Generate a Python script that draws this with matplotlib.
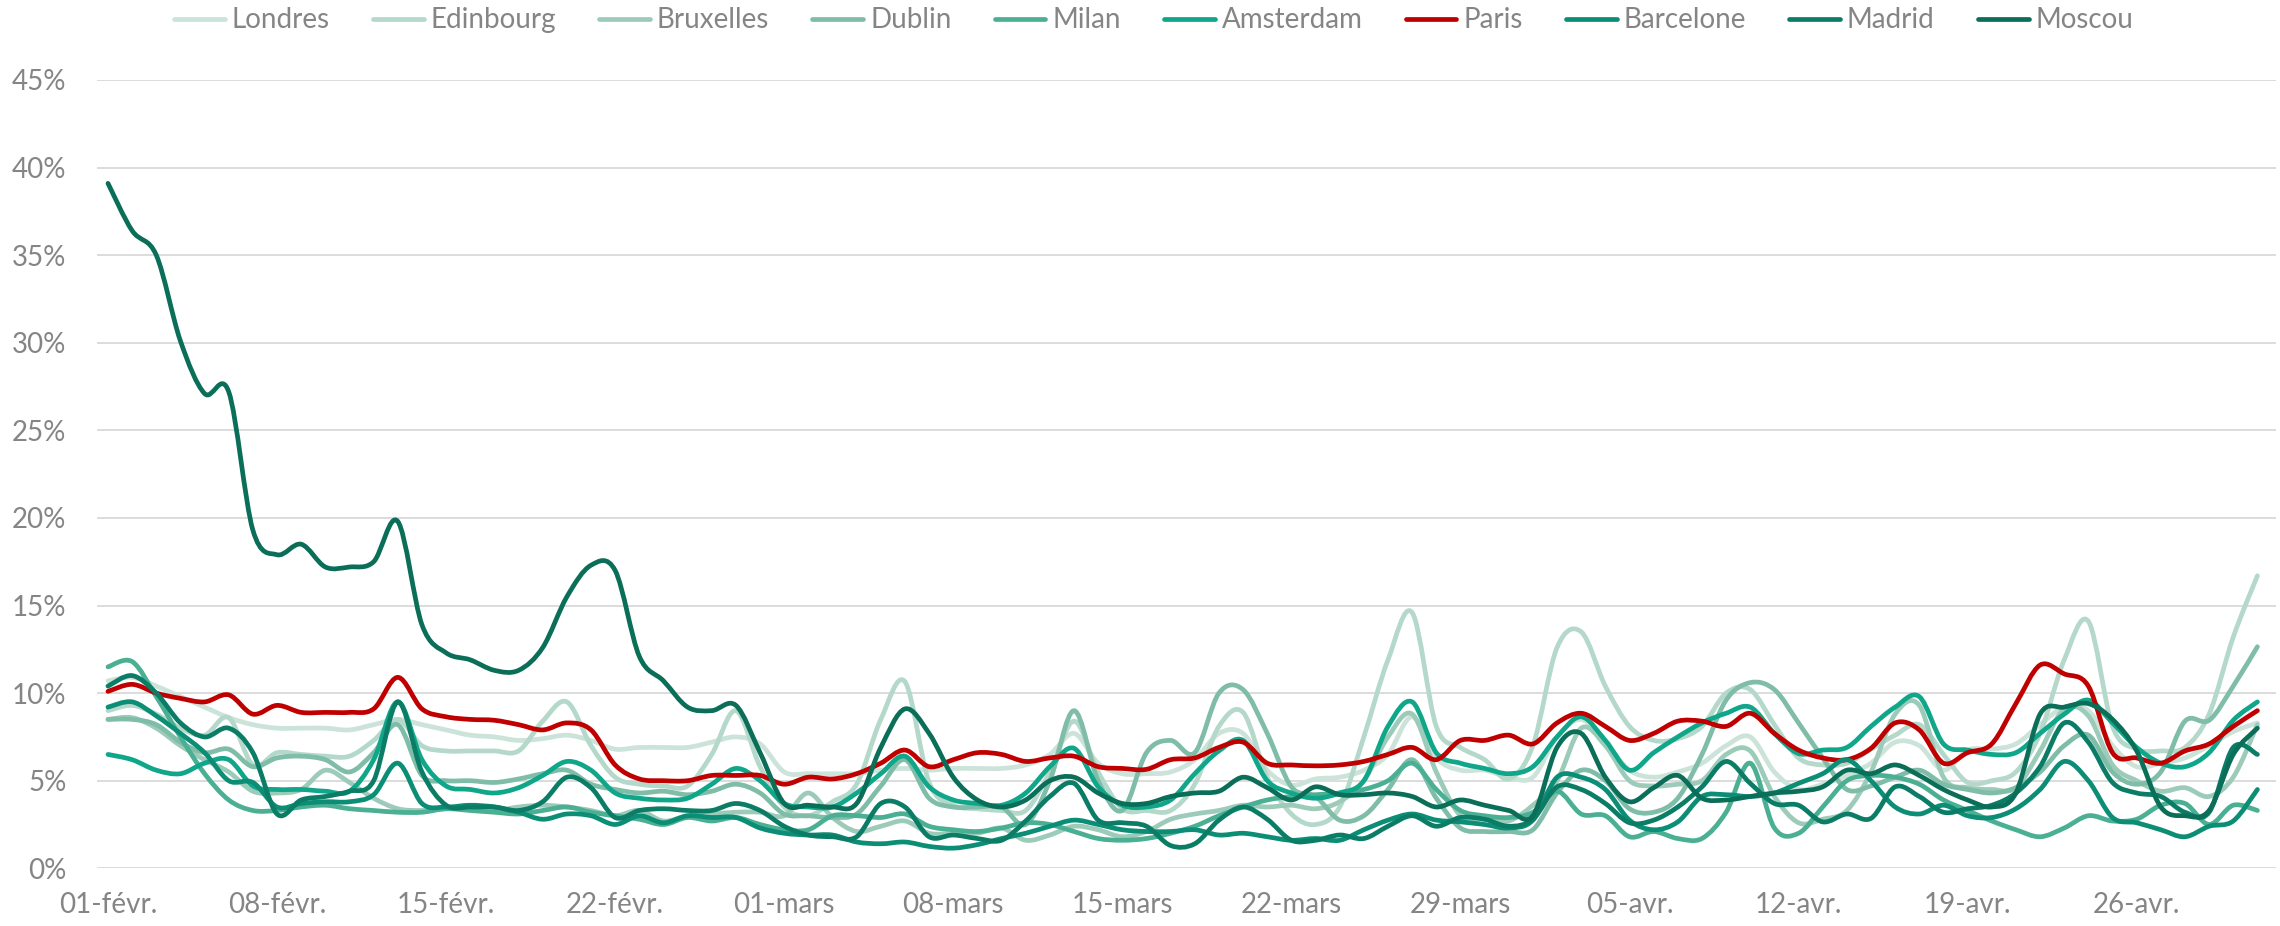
import numpy as np
import matplotlib
matplotlib.use("Agg")
import matplotlib.pyplot as plt
from matplotlib.path import Path
from matplotlib.patches import PathPatch
from matplotlib.lines import Line2D
from matplotlib.ticker import FuncFormatter

plt.rcParams['font.family'] = ['Lato', 'DejaVu Sans']

# ---------------- data (percent, daily from 01-févr to 01-mai) ----------------
tick_labels = ["01-févr.", "08-févr.", "15-févr.", "22-févr.", "01-mars", "08-mars",
               "15-mars", "22-mars", "29-mars", "05-avr.", "12-avr.", "19-avr.", "26-avr."]

londres = [10.7, 10.9, 10.4, 9.8, 9.2, 8.6, 8.2, 8.0, 8.0, 8.0,
           7.9, 8.2, 8.5, 8.2, 7.9, 7.6, 7.5, 7.3, 7.4, 7.6,
           7.3, 6.8, 6.9, 6.9, 6.9, 7.2, 7.5, 7.1, 5.5, 5.4,
           5.4, 5.4, 5.6, 5.7, 5.6, 5.7, 5.7, 5.7, 5.9, 6.5,
           7.7, 6.0, 5.4, 5.4, 5.5, 6.2, 7.7, 7.7, 5.6, 4.75,
           5.1, 5.2, 5.6, 6.5, 8.65, 6.3, 5.6, 5.6, 5.2, 5.2,
           7.5, 8.5, 7.2, 5.6, 5.2, 5.5, 6.0, 7.0, 7.5, 5.5,
           4.5, 4.8, 5.3, 6.0, 7.2, 7.0, 5.6, 6.75, 6.8, 7.1,
           8.2, 9.2, 9.0, 7.0, 5.8, 6.0, 6.3, 7.0, 7.8, 8.3]

edinbourg = [9.0, 9.3, 8.8, 8.0, 7.6, 8.6, 5.9, 6.6, 6.5, 6.4,
             6.4, 7.3, 8.5, 7.0, 6.7, 6.7, 6.7, 6.7, 8.4, 9.5,
             7.0, 5.2, 4.8, 4.7, 4.7, 6.5, 9.0, 5.8, 3.5, 3.0,
             3.8, 4.8, 8.5, 10.65, 4.9, 3.6, 3.4, 3.3, 3.3, 5.5,
             8.4, 5.5, 3.4, 3.3, 3.3, 4.8, 8.1, 8.9, 5.2, 3.1,
             2.5, 3.5, 7.5, 11.9, 14.6, 8.1, 6.9, 6.2, 5.1, 7.0,
             12.6, 13.5, 10.4, 8.1, 7.3, 7.4, 8.1, 10.0, 10.2, 8.2,
             6.3, 5.9, 6.0, 6.8, 7.6, 8.2, 6.5, 4.9, 5.0, 5.5,
             7.7, 11.9, 14.1, 8.1, 6.8, 6.7, 6.9, 8.8, 13.2, 16.7]

bruxelles = [8.5, 8.6, 8.0, 7.0, 6.2, 5.5, 4.4, 4.3, 4.5, 5.6,
             4.9, 4.0, 3.4, 3.3, 3.4, 3.5, 3.3, 3.5, 3.6, 3.5,
             3.3, 3.0, 3.3, 2.7, 3.0, 3.1, 3.2, 3.2, 3.0, 4.3,
             2.9, 2.1, 2.4, 2.7, 2.0, 2.0, 2.0, 2.3, 1.6, 1.9,
             2.4, 2.2, 1.8, 2.1, 2.8, 3.1, 3.3, 3.6, 3.5, 3.6,
             3.4, 3.8, 5.0, 7.5, 8.8, 5.5, 3.0, 2.8, 2.7, 3.6,
             5.0, 8.0, 7.0, 5.0, 4.7, 4.8, 5.0, 6.5, 6.7, 4.1,
             2.6, 2.8, 3.3, 5.5, 8.8, 9.3, 5.2, 4.6, 4.5, 4.6,
             6.7, 9.1, 8.7, 5.9, 5.0, 4.4, 4.6, 4.1, 5.2, 8.2]

dublin = [8.5, 8.5, 8.2, 7.2, 6.6, 6.8, 5.8, 6.3, 6.4, 6.2,
          5.5, 6.6, 8.2, 5.3, 5.0, 5.0, 4.9, 5.1, 5.4, 5.6,
          4.8, 4.5, 4.3, 4.4, 4.2, 4.4, 4.8, 4.3, 3.1, 3.0,
          2.9, 3.1, 4.7, 6.2, 4.0, 3.5, 3.5, 3.5, 2.5, 5.0,
          9.0, 5.0, 3.3, 6.6, 7.3, 6.6, 10.0, 10.2, 7.7, 4.65,
          4.1, 2.75, 3.0, 4.5, 6.2, 4.0, 2.3, 2.1, 2.1, 2.2,
          4.3, 5.6, 5.0, 3.4, 3.2, 4.0, 6.5, 9.6, 10.6, 10.2,
          8.3, 6.3, 4.5, 4.7, 5.2, 5.6, 4.8, 4.5, 4.3, 4.6,
          5.5, 7.0, 7.6, 5.5, 4.8, 5.5, 8.4, 8.45, 10.4, 12.65]

milan = [11.5, 11.8, 9.8, 7.5, 5.4, 3.9, 3.3, 3.3, 3.5, 3.6,
         3.4, 3.3, 3.2, 3.2, 3.4, 3.3, 3.2, 3.1, 3.3, 3.5,
         3.2, 3.0, 2.8, 2.5, 2.9, 2.7, 2.9, 2.5, 2.2, 2.2,
         3.0, 3.0, 2.9, 3.1, 2.4, 2.2, 2.1, 2.3, 2.6, 2.5,
         2.1, 1.7, 1.6, 1.7, 2.0, 2.4, 3.0, 3.5, 3.9, 4.1,
         4.2, 4.3, 4.5, 5.0, 6.0, 4.5, 3.3, 3.0, 2.9, 3.2,
         4.4, 3.1, 3.0, 1.8, 2.1, 1.7, 1.7, 3.2, 6.0, 2.3,
         2.0, 3.5, 5.0, 5.3, 5.2, 4.8, 3.9, 3.3, 2.7, 2.2,
         1.8, 2.3, 3.0, 2.7, 2.8, 3.6, 3.7, 2.5, 3.6, 3.3]

amsterdam = [6.5, 6.2, 5.6, 5.4, 6.0, 6.2, 4.7, 4.5, 4.5, 4.4,
             4.4, 6.2, 9.5, 6.2, 4.7, 4.5, 4.3, 4.6, 5.3, 6.1,
             5.6, 4.3, 4.0, 3.9, 4.0, 4.8, 5.7, 5.0, 3.7, 3.5,
             3.5, 4.3, 5.4, 6.4, 4.65, 3.9, 3.7, 3.6, 4.3, 5.8,
             6.85, 4.65, 3.6, 3.5, 3.9, 5.4, 6.7, 7.3, 5.0, 4.3,
             4.0, 4.3, 5.0, 8.1, 9.5, 6.6, 6.0, 5.7, 5.4, 5.8,
             7.5, 8.65, 7.3, 5.6, 6.6, 7.5, 8.3, 8.85, 9.2, 7.7,
             6.55, 6.75, 6.9, 8.1, 9.2, 9.8, 7.1, 6.75, 6.5, 6.6,
             7.7, 8.8, 9.6, 8.3, 6.9, 6.0, 5.8, 6.6, 8.45, 9.5]

paris = [10.1, 10.5, 10.0, 9.7, 9.5, 9.9, 8.8, 9.3, 8.9, 8.9,
         8.9, 9.1, 10.9, 9.1, 8.65, 8.5, 8.45, 8.2, 7.9, 8.3,
         7.9, 5.9, 5.1, 5.0, 5.0, 5.3, 5.3, 5.3, 4.8, 5.2,
         5.1, 5.4, 6.0, 6.75, 5.8, 6.2, 6.6, 6.5, 6.1, 6.3,
         6.4, 5.8, 5.7, 5.65, 6.2, 6.3, 6.9, 7.2, 6.0, 5.9,
         5.85, 5.9, 6.1, 6.5, 6.9, 6.2, 7.3, 7.3, 7.6, 7.1,
         8.3, 8.85, 8.1, 7.3, 7.7, 8.4, 8.4, 8.1, 8.85, 7.7,
         6.75, 6.3, 6.2, 6.85, 8.3, 7.9, 6.0, 6.6, 7.1, 9.4,
         11.6, 11.1, 10.4, 6.6, 6.3, 6.0, 6.7, 7.1, 8.1, 9.0]

barcelone = [9.2, 9.5, 8.7, 7.7, 6.6, 5.0, 4.9, 3.5, 3.7, 3.8,
             3.8, 4.2, 6.0, 3.7, 3.5, 3.6, 3.5, 3.2, 2.8, 3.1,
             3.0, 2.5, 3.0, 2.6, 3.0, 2.9, 2.9, 2.3, 2.0, 1.9,
             1.9, 1.5, 1.4, 1.5, 1.25, 1.15, 1.35, 1.7, 2.0, 2.4,
             2.75, 2.5, 2.2, 2.1, 2.1, 2.2, 1.9, 2.0, 1.8, 1.6,
             1.7, 1.6, 2.2, 2.75, 3.1, 2.75, 2.65, 2.5, 2.3, 2.75,
             5.2, 5.2, 4.5, 2.75, 2.2, 2.65, 4.1, 4.2, 4.1, 4.3,
             4.85, 5.4, 6.2, 5.0, 3.5, 3.1, 3.6, 3.0, 2.9, 3.4,
             4.5, 6.1, 5.0, 2.9, 2.6, 2.2, 1.8, 2.4, 2.7, 4.5]

madrid = [10.4, 11.0, 10.0, 8.3, 7.5, 8.0, 6.6, 3.1, 3.9, 4.1,
          4.4, 5.0, 9.5, 5.5, 3.6, 3.5, 3.5, 3.3, 3.8, 5.2,
          4.6, 2.9, 3.3, 3.4, 3.3, 3.3, 3.7, 3.3, 2.4, 1.9,
          1.8, 1.8, 3.7, 3.5, 1.8, 1.9, 1.7, 1.6, 2.7, 4.1,
          4.85, 2.75, 2.6, 2.4, 1.3, 1.4, 2.75, 3.5, 2.8, 1.6,
          1.6, 1.9, 1.7, 2.4, 3.0, 2.4, 2.9, 2.8, 2.4, 2.8,
          4.65, 4.5, 3.7, 2.6, 2.75, 3.5, 4.65, 6.1, 4.85, 3.7,
          3.6, 2.65, 3.1, 2.85, 4.65, 4.1, 3.2, 3.4, 3.6, 4.3,
          5.8, 8.3, 7.2, 4.9, 4.3, 4.1, 3.2, 3.2, 6.9, 6.5]

moscou = [39.1, 36.4, 35.0, 30.1, 27.1, 27.2, 19.3, 17.9, 18.5, 17.2,
          17.2, 17.5, 19.8, 13.9, 12.3, 11.9, 11.3, 11.3, 12.6, 15.5,
          17.3, 17.0, 12.1, 10.7, 9.2, 9.0, 9.3, 6.6, 3.7, 3.6,
          3.5, 3.7, 6.9, 9.1, 7.7, 5.2, 3.9, 3.5, 3.9, 5.0,
          5.2, 4.3, 3.7, 3.7, 4.1, 4.3, 4.4, 5.2, 4.6, 3.9,
          4.65, 4.2, 4.2, 4.3, 4.1, 3.5, 3.9, 3.6, 3.3, 3.0,
          6.9, 7.7, 5.2, 3.8, 4.6, 5.3, 4.0, 3.9, 4.1, 4.3,
          4.4, 4.65, 5.6, 5.4, 5.9, 5.3, 4.5, 3.9, 3.5, 4.3,
          8.8, 9.2, 9.4, 8.5, 6.7, 3.5, 3.0, 3.3, 6.5, 8.0]

names = ["Londres", "Edinbourg", "Bruxelles", "Dublin", "Milan",
         "Amsterdam", "Paris", "Barcelone", "Madrid", "Moscou"]
series = [londres, edinbourg, bruxelles, dublin, milan,
          amsterdam, paris, barcelone, madrid, moscou]
colors = ["#cce3d9", "#b4d8ca", "#9dcbb9", "#7fbda8", "#4bb093",
          "#0fa68a", "#c00000", "#0c8d75", "#0b7d66", "#0a6e59"]

# ---------------- helpers ----------------
def smooth_path(x, y):
    """Excel-like smoothed line: cubic Bezier through the data points."""
    x = np.asarray(x, float)
    y = np.asarray(y, float)
    n = len(x)
    verts = [(x[0], y[0])]
    codes = [Path.MOVETO]
    for i in range(n - 1):
        p0 = i - 1 if i > 0 else i
        p3 = i + 2 if i + 2 < n else i + 1
        c1 = (x[i] + (x[i + 1] - x[p0]) / 6.0, y[i] + (y[i + 1] - y[p0]) / 6.0)
        c2 = (x[i + 1] - (x[p3] - x[i]) / 6.0, y[i + 1] - (y[p3] - y[i]) / 6.0)
        verts += [c1, c2, (x[i + 1], y[i + 1])]
        codes += [Path.CURVE4] * 3
    return Path(verts, codes)

# ---------------- figure ----------------
W, H = 2280, 926
fig = plt.figure(figsize=(W / 100, H / 100), dpi=100)
ax = fig.add_axes([97 / W, 1 - 868.3 / H, (2276 - 97) / W, (868.3 - 80) / H])

grey_text = "#858585"
lw = 3.4

for yv in range(0, 50, 5):
    ax.axhline(yv, color="#d9d9d9", lw=1.3, zorder=0)

days = np.arange(len(moscou))
handles = []
for name, vals, col in zip(names, series, colors):
    p = smooth_path(days, vals)
    patch = PathPatch(p, facecolor="none", edgecolor=col, lw=lw,
                      capstyle="round", joinstyle="round", zorder=2)
    ax.add_patch(patch)
    handles.append(Line2D([0], [0], color=col, lw=lw, solid_capstyle="round", label=name))

ax.set_xlim(-0.455, 89.77)
ax.set_ylim(0, 45)
ax.set_xticks(np.arange(0, 7 * len(tick_labels), 7))
ax.set_xticklabels(tick_labels)
ax.set_yticks(np.arange(0, 50, 5))
ax.yaxis.set_major_formatter(FuncFormatter(lambda v, _: f"{v:.0f}%"))
ax.tick_params(axis="both", length=0, labelsize=20, labelcolor=grey_text)
ax.tick_params(axis="x", pad=17)
ax.tick_params(axis="y", pad=22)
for s in ax.spines.values():
    s.set_visible(False)

fig.legend(handles=handles, loc="center", bbox_to_anchor=(0.506, 0.978),
           ncol=10, frameon=False, fontsize=20, labelcolor=grey_text,
           handlelength=1.83, handletextpad=0.25, columnspacing=1.55,
           borderaxespad=0, borderpad=0)

fig.savefig("out.png", dpi=100)
